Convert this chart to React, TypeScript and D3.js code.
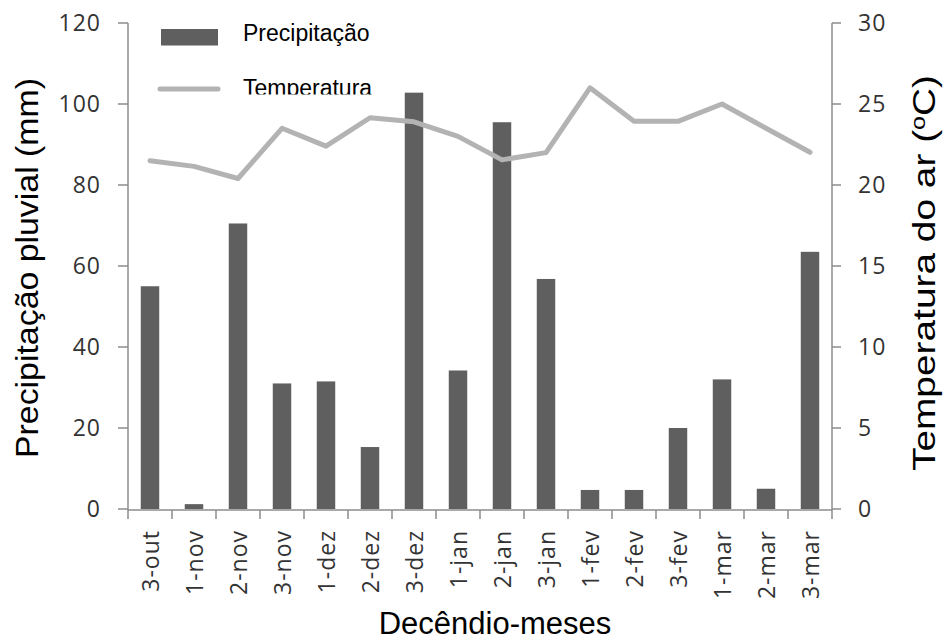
import React from "react";
import * as d3 from "d3";

const categories = ["3-out","1-nov","2-nov","3-nov","1-dez","2-dez","3-dez","1-jan","2-jan","3-jan","1-fev","2-fev","3-fev","1-mar","2-mar","3-mar"];
const precipitation = [55, 1.2, 70.5, 31, 31.5, 15.3, 102.8, 34.2, 95.5, 56.8, 4.7, 4.7, 20, 32, 5, 63.5];
const temperature = [21.5, 21.15, 20.4, 23.5, 22.4, 24.15, 23.9, 23.0, 21.55, 22.0, 26.0, 23.93, 23.93, 25.0, 23.5, 22.02];
const leftTicks = [0, 20, 40, 60, 80, 100, 120];
const rightTicks = [0, 5, 10, 15, 20, 25, 30];

const W = 944, H = 641;
const X0 = 128, X1 = 832, Y0 = 509, Y1 = 23;
const tickFont = "'Open Sans', 'DejaVu Sans', sans-serif";
const titleFont = "'Liberation Sans', Arial, sans-serif";

export default function App() {
  const x = d3.scaleBand<string>().domain(categories).range([X0, X1]).paddingInner(0.58).paddingOuter(0.29);
  const step = x.step();
  const yL = d3.scaleLinear().domain([0, 120]).range([Y0, Y1]);
  const yR = d3.scaleLinear().domain([0, 30]).range([Y0, Y1]);
  const cx = (c: string) => (x(c) as number) + x.bandwidth() / 2;
  const line = d3.line<number>().x((_, i) => cx(categories[i])).y((d) => yR(d));
  const boundaries = d3.range(categories.length + 1).map((i) => X0 + i * step);
  const axisColor = "#8c8c8c";
  const labelColor = "#333";

  return (
    <svg width={W} height={H} style={{ position: "absolute", left: 0, top: 0, background: "#fff" }}>
      <defs>
        <clipPath id="xlab"><rect x={0} y={0} width={W} height={598} /></clipPath>
        <clipPath id="leg"><rect x={140} y={0} width={260} height={94.5} /></clipPath>
      </defs>
      <rect x={0} y={0} width={W} height={H} fill="#fff" />
      {categories.map((c, i) => (
        <rect key={c} x={x(c)} y={yL(precipitation[i])} width={x.bandwidth()} height={Y0 - yL(precipitation[i])} fill="#5f5f5f" />
      ))}
      <path d={line(temperature) || ""} fill="none" stroke="#b3b3b3" strokeWidth={5} strokeLinejoin="round" strokeLinecap="round" />
      <line x1={X0} x2={X0} y1={Y1} y2={Y0 + 1} stroke={axisColor} strokeWidth={1.5} />
      {leftTicks.map((t) => (
        <g key={"l" + t}>
          <line x1={X0 - 10} x2={X0} y1={yL(t)} y2={yL(t)} stroke={axisColor} strokeWidth={1.5} />
          <text x={101} y={yL(t)} dy="0.36em" textAnchor="end" fontFamily={tickFont} fontSize={23} letterSpacing={1} fill={labelColor}>{t}</text>
        </g>
      ))}
      <line x1={X1} x2={X1} y1={Y1} y2={Y0 + 1} stroke={axisColor} strokeWidth={1.5} />
      {rightTicks.map((t) => (
        <g key={"r" + t}>
          <line x1={X1} x2={X1 + 9} y1={yR(t)} y2={yR(t)} stroke={axisColor} strokeWidth={1.5} />
          <text x={858} y={yR(t)} dy="0.36em" textAnchor="start" fontFamily={tickFont} fontSize={23} letterSpacing={1} fill={labelColor}>{t}</text>
        </g>
      ))}
      <line x1={X0} x2={X1} y1={Y0 + 1} y2={Y0 + 1} stroke={axisColor} strokeWidth={1.5} />
      {boundaries.map((b, i) => (
        <line key={"xt" + i} x1={b} x2={b} y1={Y0 + 1} y2={Y0 + 10} stroke={axisColor} strokeWidth={1.5} />
      ))}
      <g clipPath="url(#xlab)">
        {categories.map((c) => (
          <text key={"xl" + c} transform={`translate(${cx(c) + 1},530) rotate(-90)`} textAnchor="end" dy="0.36em" fontFamily={tickFont} fontSize={23} letterSpacing={1} fill={labelColor}>{c}</text>
        ))}
      </g>
      <text x={495} y={634} textAnchor="middle" fontFamily={titleFont} fontSize={31} fill="#000">Decêndio-meses</text>
      <text transform="translate(38,268) rotate(-90)" textAnchor="middle" fontFamily={titleFont} fontSize={31} fill="#000" textLength={380} lengthAdjust="spacingAndGlyphs">Precipitação pluvial (mm)</text>
      <text transform="translate(935,273) rotate(-90)" textAnchor="middle" fontFamily={titleFont} fontSize={31} fill="#000" textLength={396} lengthAdjust="spacingAndGlyphs">
        Temperatura do ar (<tspan dy="-10" fontSize={20}>o</tspan><tspan dy="10">C)</tspan>
      </text>
      <g clipPath="url(#leg)">
        <rect x={161} y={29} width={57} height={16.5} fill="#5f5f5f" />
        <text x={243} y={41} fontFamily={titleFont} fontSize={23} fill="#000">Precipitação</text>
        <line x1={160} x2={218} y1={89} y2={89} stroke="#b3b3b3" strokeWidth={5} strokeLinecap="round" />
        <text x={243} y={96} fontFamily={titleFont} fontSize={23} fill="#000">Temperatura</text>
      </g>
    </svg>
  );
}
